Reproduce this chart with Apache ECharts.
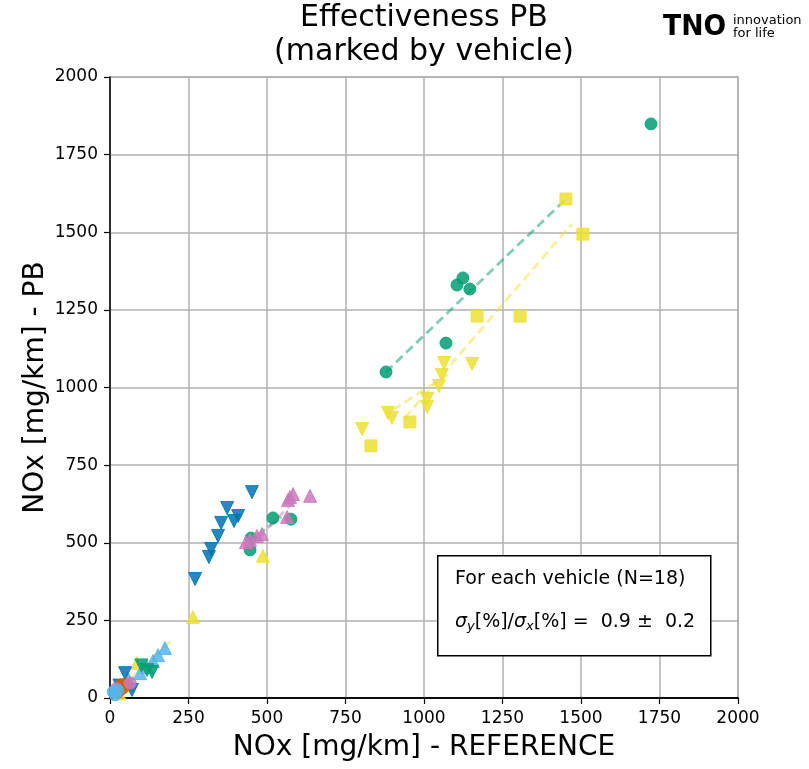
<!DOCTYPE html>
<html>
<head>
<meta charset="utf-8">
<script src="https://cdn.jsdelivr.net/npm/echarts@6/dist/echarts.min.js"></script>
<style>
  html, body { margin: 0; padding: 0; background: #fff; }
  #chart { width: 809px; height: 769px; }
</style>
</head>
<body>
<div id="chart"></div>
<script>
// tick labels
var ticks = [0, 250, 500, 750, 1000, 1250, 1500, 1750, 2000];

// points per vehicle [reference, PB]
var greenCircleHigh = [[879, 1050], [1070, 1143], [1105, 1330], [1124, 1353], [1146, 1317], [1723, 1849]];
var greenCircleMid = [[446, 477], [449, 515], [519, 580], [576, 576]];
var yellowSquare = [[831, 812], [955, 889], [1169, 1230], [1306, 1230], [1452, 1607], [1506, 1494]];
var yellowTriDown = [[803, 866], [885, 918], [898, 902], [1010, 963], [1010, 937], [1048, 1005], [1057, 1040], [1064, 1079], [1153, 1076]];
var yellowTriUp = [[264, 261], [487, 458], [86, 113], [60, 40], [30, 15]];
var blueTriDown = [[271, 383], [315, 454], [322, 480], [344, 522], [354, 564], [373, 612], [395, 570], [408, 586], [452, 663]];
var pinkTriUp = [[433, 502], [446, 509], [468, 522], [484, 528], [564, 583], [567, 638], [573, 647], [583, 657], [637, 651]];
var lightBlueTriUp = [[25, 32], [57, 64], [96, 80], [118, 100], [137, 119], [153, 138], [175, 161]];
var greenTriDown = [[100, 105], [118, 90], [134, 84]];
var blueTriDownLow = [[30, 40], [48, 80], [70, 26]];
var redCircle = [[25, 19], [35, 42], [41, 32], [50, 45]];
var pinkCircle = [[20, 30], [64, 48]];
var lightBlueCircle = [[10, 20], [16, 10], [25, 25]];

// fitted lines per vehicle (end points)
var fitGreenHigh = [[879, 1050], [1452, 1607]];
var fitGreenMid = [[471, 525], [545, 583]];
var fitYellowSquare = [[939, 902], [1471, 1527]];
var fitYellowTriDown = [[901, 928], [1083, 1047]];
var fitPinkTriUp = [[471, 515], [596, 644]];
var fitYellowLow = [[6, 10], [197, 187]];
var fitGrayLow = [[20, 20], [80, 70]];

var C = {
    green: '#029e73', yellow: '#ece133', blue: '#0173b2', pink: '#cc78bc',
    lightBlue: '#56b4e9', red: '#d55e00', gray: '#949494'
};
var FONT = 'DejaVu Sans';

function pts(data, color, symbol, size, rotate) {
    return {
        type: 'scatter', data: data, symbol: symbol, symbolSize: size,
        symbolRotate: rotate || 0,
        itemStyle: { color: color, opacity: 0.85, borderColor: color, borderWidth: 1 },
        z: 3
    };
}
function fit(data, color) {
    return {
        type: 'line', data: data, symbol: 'none', z: 2,
        lineStyle: { color: color, width: 2.8, type: [9, 5], opacity: 0.5 }
    };
}

var axisCommon = {
    min: ticks[0], max: ticks[ticks.length - 1], interval: ticks[1] - ticks[0],
    axisLine: { show: true, onZero: false, lineStyle: { color: '#000', width: 1.5 } },
    axisTick: { show: true, length: 6, lineStyle: { color: '#000', width: 1.2 } },
    axisLabel: { color: '#000', fontSize: 17, fontFamily: FONT, margin: 12,
        formatter: function (v) { return String(v); } },
    splitLine: { show: true, lineStyle: { color: '#b0b0b0', width: 1.5 } },
    nameLocation: 'middle',
    nameMoveOverlap: false,
    nameTextStyle: { color: '#000', fontSize: 28, fontFamily: FONT }
};

var chart = echarts.init(document.getElementById('chart'));
chart.setOption({
    animation: false,
    grid: { left: 110, right: 71, top: 77, bottom: 71, show: true, borderColor: '#b0b0b0', borderWidth: 1.5 },
    xAxis: [
        Object.assign({}, axisCommon, { type: 'value', name: 'NOx [mg/km] - REFERENCE', nameGap: 36 }),
        { type: 'value', position: 'top', min: 0, max: 2000, interval: 250,
          axisLine: { show: true, lineStyle: { color: '#000', width: 1.5 } },
          axisTick: { show: false }, axisLabel: { show: false }, splitLine: { show: false } }
    ],
    yAxis: Object.assign({}, axisCommon, { type: 'value', name: 'NOx [mg/km] - PB', nameGap: 60 }),
    series: [
        fit(fitGreenHigh, C.green),
        fit(fitGreenMid, C.green),
        fit(fitYellowSquare, C.yellow),
        fit(fitYellowTriDown, C.yellow),
        fit(fitPinkTriUp, C.pink),
        fit(fitYellowLow, C.yellow),
        fit(fitGrayLow, C.gray),
        pts(greenCircleHigh, C.green, 'circle', 12),
        pts(greenCircleMid, C.green, 'circle', 12),
        pts(yellowSquare, C.yellow, 'rect', 12),
        pts(yellowTriDown, C.yellow, 'triangle', 13, 180),
        pts(yellowTriUp, C.yellow, 'triangle', 13),
        pts(blueTriDown, C.blue, 'triangle', 13, 180),
        pts(pinkTriUp, C.pink, 'triangle', 13),
        pts(lightBlueTriUp, C.lightBlue, 'triangle', 13),
        pts(greenTriDown, C.green, 'triangle', 13, 180),
        pts(blueTriDownLow, C.blue, 'triangle', 13, 180),
        pts(redCircle, C.red, 'circle', 12),
        pts(pinkCircle, C.pink, 'circle', 12),
        pts(lightBlueCircle, C.lightBlue, 'circle', 12)
    ],
    graphic: [
        { type: 'text', x: 424, y: 18, style: { text: 'Effectiveness PB', align: 'center', verticalAlign: 'middle',
            fill: '#000', font: '30px "DejaVu Sans"' }, z: 10 },
        { type: 'text', x: 424, y: 52, style: { text: '(marked by vehicle)', align: 'center', verticalAlign: 'middle',
            fill: '#000', font: '30px "DejaVu Sans"' }, z: 10 },
        // TNO logo
        { type: 'text', x: 663, y: 27, scaleX: 0.92, style: { text: 'TNO', fill: '#000', verticalAlign: 'middle',
            font: '900 29px "DejaVu Sans"' }, z: 10 },
        { type: 'text', x: 733, y: 21, style: { text: 'innovation', fill: '#000', verticalAlign: 'middle',
            font: '13px "DejaVu Sans"' }, z: 10 },
        { type: 'text', x: 733, y: 34, style: { text: 'for life', fill: '#000', verticalAlign: 'middle',
            font: '13px "DejaVu Sans"' }, z: 10 },
        // annotation box
        { type: 'rect', left: 437, top: 555, shape: { width: 273, height: 100 },
            style: { fill: '#fff', stroke: '#000', lineWidth: 1.5 }, z: 10 },
        { type: 'text', x: 455, y: 579, style: { text: 'For each vehicle (N=18)', fill: '#000', verticalAlign: 'middle',
            font: '19px "DejaVu Sans"' }, z: 11 },
        { type: 'text', x: 455, y: 622, z: 11, style: {
            verticalAlign: 'middle',
            text: '{s|σ}{sub|y}{n|[%]/}{s|σ}{sub|x}{n|[%] =  0.9 ±  0.2}',
            rich: {
                s: { fontSize: 19, fontStyle: 'italic', fontFamily: FONT, fill: '#000' },
                sub: { fontSize: 13, fontStyle: 'italic', fontFamily: FONT, fill: '#000', padding: [10, 0, 0, 0] },
                n: { fontSize: 19, fontFamily: FONT, fill: '#000' }
            }
        } }
    ]
});
</script>
</body>
</html>
